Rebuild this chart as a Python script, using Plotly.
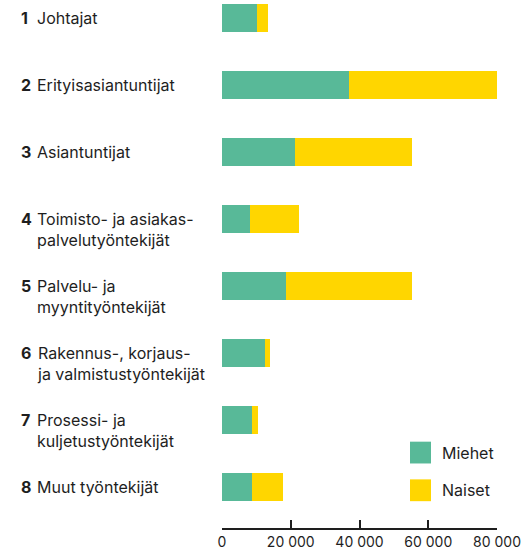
import plotly.graph_objects as go

numbers = ["1", "2", "3", "4", "5", "6", "7", "8"]
categories = [
    "Johtajat",
    "Erityisasiantuntijat",
    "Asiantuntijat",
    "Toimisto- ja asiakas-<br>palvelutyöntekijät",
    "Palvelu- ja<br>myyntityöntekijät",
    "Rakennus-, korjaus-<br>ja valmistustyöntekijät",
    "Prosessi- ja<br>kuljetustyöntekijät",
    "Muut työntekijät",
]
miehet = [10200, 36900, 21100, 8100, 18500, 12400, 8600, 8600]
naiset = [3100, 43200, 34300, 14200, 36900, 1700, 1800, 9000]
tick_vals = [0, 20000, 40000, 60000, 80000]
tick_text = ["0", "20 000", "40 000", "60 000", "80 000"]
series_names = ["Miehet", "Naiset"]

GREEN = "#58B998"
YELLOW = "#FFD600"
TEXT = "#1E1E1E"
FONT = "Inter"

fig = go.Figure()
fig.add_trace(go.Bar(y=categories, x=miehet, orientation="h", name=series_names[0],
                     marker=dict(color=GREEN, line=dict(width=0)), width=0.414,
                     showlegend=False))
fig.add_trace(go.Bar(y=categories, x=naiset, orientation="h", name=series_names[1],
                     marker=dict(color=YELLOW, line=dict(width=0)), width=0.414,
                     showlegend=False))

annotations = []
for num, cat in zip(numbers, categories):
    annotations.append(dict(xref="paper", yref="y", x=0, y=cat, text="<b>" + num + "</b>",
                            xanchor="left", yanchor="top", xshift=-203, yshift=12,
                            showarrow=False, font=dict(family=FONT, size=16, color=TEXT)))
    annotations.append(dict(xref="paper", yref="y", x=0, y=cat, text=cat, align="left",
                            xanchor="left", yanchor="top", xshift=-187, yshift=12,
                            showarrow=False, font=dict(family=FONT, size=16, color=TEXT)))

# custom legend
L0, L1 = 0.6836, 0.76
legend_rows = [(0.1635, 0.1222, GREEN, series_names[0]), (0.0921, 0.0508, YELLOW, series_names[1])]
shapes = []
for top, bot, col, name in legend_rows:
    shapes.append(dict(type="rect", xref="paper", yref="paper", x0=L0, x1=L1, y0=bot, y1=top,
                       fillcolor=col, line=dict(width=0)))
    annotations.append(dict(xref="paper", yref="paper", x=0.793, y=(top + bot) / 2, text=name,
                            xanchor="left", yanchor="middle", showarrow=False,
                            font=dict(family=FONT, size=16, color=TEXT)))

fig.update_layout(
    width=527, height=550,
    margin=dict(l=222, r=30, t=0, b=18),
    paper_bgcolor="white", plot_bgcolor="white",
    barmode="stack", bargap=0,
    font=dict(family=FONT, size=14, color=TEXT),
    annotations=annotations, shapes=shapes,
    xaxis=dict(range=[0, 80000], tickvals=tick_vals, ticktext=tick_text,
               ticks="inside", ticklen=8, tickwidth=1.5, tickcolor=TEXT,
               showline=True, linecolor=TEXT, linewidth=1.5,
               showgrid=False, zeroline=False, fixedrange=True,
               tickfont=dict(family=FONT, size=14, color=TEXT)),
    yaxis=dict(type="category", range=[7.607, -0.266], showticklabels=False,
               showgrid=False, zeroline=False, showline=False, ticks="", fixedrange=True),
)

fig.write_html("out.html", config={"displayModeBar": False},
               post_script="document.body.style.margin='0';document.body.style.overflow='hidden';")
